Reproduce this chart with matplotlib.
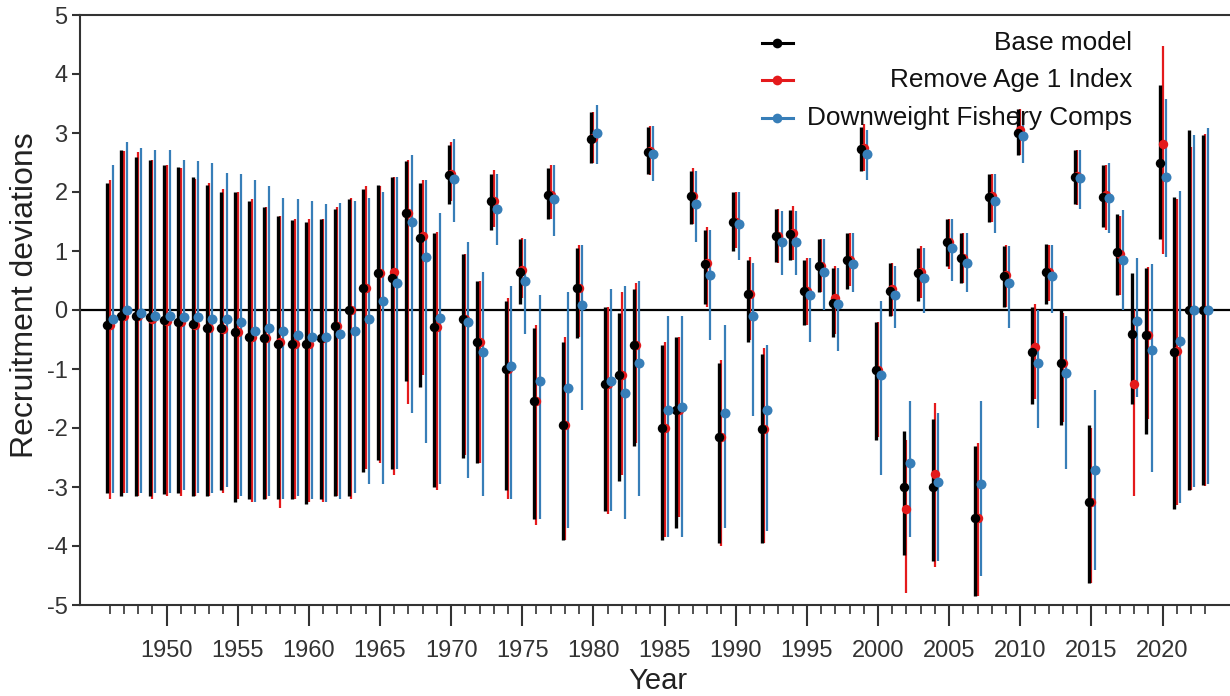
import matplotlib
matplotlib.use('Agg')
import matplotlib.pyplot as plt
import numpy as np
from matplotlib.lines import Line2D

years = list(range(1946, 2024))

base = [-0.25,-0.1,-0.1,-0.12,-0.17,-0.2,-0.23,-0.3,-0.3,-0.37,
        -0.45,-0.47,-0.57,-0.57,-0.57,-0.47,-0.27,0.0,0.38,0.63,
        0.55,1.65,1.22,-0.28,2.28,-0.15,-0.55,1.85,-1.0,0.65,
        -1.55,1.95,-1.95,0.38,2.9,-1.25,-1.1,-0.6,2.68,-2.0,
        -1.7,1.93,0.78,-2.15,1.5,0.27,-2.02,1.25,1.28,0.32,
        0.75,0.12,0.85,2.73,-1.02,0.33,-3.0,0.62,-3.0,1.15,
        0.88,-3.52,1.92,0.57,3.0,-0.72,0.65,-0.9,2.25,-3.25,
        1.92,0.98,-0.4,-0.42,2.5,-0.72,0.0,0.0]
base_hi = [2.15,2.72,2.6,2.55,2.45,2.42,2.25,2.12,2.0,2.0,
           1.85,1.75,1.6,1.52,1.5,1.55,1.72,1.88,2.05,2.12,
           2.25,2.52,2.15,1.3,2.8,0.95,0.5,2.3,0.15,1.2,
           -0.3,2.4,-0.55,1.05,3.35,0.05,-0.05,0.35,3.1,-0.6,
           -0.45,2.35,1.35,-0.9,2.0,0.85,-0.75,1.72,1.7,0.85,
           1.2,0.72,1.3,3.1,-0.2,0.8,-2.05,1.05,-1.85,1.55,
           1.3,-2.3,2.3,1.08,3.4,0.05,1.12,0.0,2.72,-1.95,
           2.45,1.63,0.63,0.72,3.82,1.92,3.05,2.97]
base_lo = [-3.1,-3.15,-3.15,-3.15,-3.12,-3.1,-3.15,-3.15,-3.05,-3.25,
           -3.2,-3.2,-3.2,-3.2,-3.28,-3.2,-3.15,-3.15,-2.75,-2.55,
           -2.7,-1.2,-1.3,-3.0,1.8,-2.5,-2.6,1.35,-3.05,0.1,
           -3.55,1.55,-3.9,-0.48,2.5,-3.4,-2.9,-2.3,2.3,-3.9,
           -3.7,1.45,0.1,-3.95,1.0,-0.55,-3.95,0.82,0.85,-0.25,
           0.3,-0.45,0.35,2.35,-2.2,-0.1,-4.15,0.15,-4.25,0.75,
           0.45,-4.85,1.5,0.05,2.62,-1.6,0.1,-1.95,1.8,-4.62,
           1.4,0.25,-1.6,-2.1,1.2,-3.38,-3.05,-2.97]

age1 = [-0.25,-0.1,-0.1,-0.15,-0.18,-0.2,-0.25,-0.3,-0.33,-0.37,
        -0.45,-0.47,-0.55,-0.57,-0.57,-0.47,-0.27,0.0,0.38,0.63,
        0.65,1.65,1.25,-0.28,2.3,-0.15,-0.55,1.85,-1.0,0.67,
        -1.55,1.95,-1.95,0.38,2.92,-1.25,-1.1,-0.6,2.7,-2.0,
        -1.7,1.93,0.8,-2.15,1.5,0.27,-2.02,1.25,1.3,0.32,
        0.75,0.2,0.85,2.75,-1.02,0.35,-3.38,0.65,-2.78,1.15,
        0.88,-3.52,1.93,0.6,3.05,-0.62,0.65,-0.9,2.27,-3.25,
        1.95,0.95,-1.25,-0.42,2.82,-0.7,0.0,0.0]
age1_hi = [2.2,2.7,2.68,2.55,2.45,2.4,2.22,2.15,2.05,2.0,
           1.88,1.75,1.6,1.55,1.55,1.55,1.75,1.9,2.1,2.1,
           2.25,2.55,2.2,1.33,2.85,0.95,0.5,2.38,0.2,1.22,
           -0.25,2.45,-0.45,1.1,3.35,0.05,0.3,0.45,3.12,-0.55,
           -0.45,2.4,1.4,-0.85,2.0,0.9,-0.65,1.72,1.77,0.88,
           1.2,0.75,1.3,3.15,-0.2,0.8,-2.2,1.08,-1.58,1.55,
           1.3,-2.25,2.3,1.1,3.4,0.1,1.1,-0.05,2.72,-2.0,
           2.45,1.6,0.0,0.73,4.47,1.88,2.77,2.98]
age1_lo = [-3.2,-3.1,-3.15,-3.2,-3.15,-3.15,-3.15,-3.15,-3.1,-3.2,
           -3.25,-3.2,-3.35,-3.2,-3.25,-3.25,-3.15,-3.2,-2.7,-2.6,
           -2.8,-1.6,-1.1,-3.05,1.85,-2.45,-2.6,1.4,-3.2,0.2,
           -3.65,1.55,-3.9,-0.45,2.5,-3.45,-2.8,-2.25,2.28,-3.85,
           -3.5,1.45,0.05,-4.0,1.05,-0.5,-3.95,0.8,0.85,-0.25,
           0.3,-0.4,0.4,2.35,-2.15,-0.1,-4.8,0.2,-4.35,0.7,
           0.45,-4.85,1.5,0.05,2.62,-1.5,0.15,-1.9,1.78,-4.62,
           1.35,0.25,-3.15,-1.85,0.95,-3.3,-3.05,-2.98]

dw = [-0.15,0.0,-0.05,-0.1,-0.1,-0.12,-0.12,-0.15,-0.15,-0.2,
      -0.35,-0.3,-0.35,-0.43,-0.45,-0.45,-0.4,-0.35,-0.15,0.15,
      0.45,1.5,0.9,-0.13,2.22,-0.2,-0.72,1.72,-0.95,0.5,
      -1.2,1.88,-1.32,0.08,3.0,-1.2,-1.4,-0.9,2.65,-1.7,
      -1.65,1.8,0.6,-1.75,1.45,-0.1,-1.7,1.15,1.15,0.25,
      0.65,0.1,0.78,2.65,-1.1,0.25,-2.6,0.55,-2.92,1.05,
      0.8,-2.95,1.85,0.45,2.95,-0.9,0.58,-1.07,2.23,-2.72,
      1.9,0.85,-0.18,-0.67,2.25,-0.52,0.0,0.0]
dw_hi = [2.45,2.85,2.75,2.72,2.72,2.55,2.52,2.5,2.32,2.3,
         2.2,2.1,1.9,1.88,1.85,1.8,1.82,1.85,1.9,2.0,
         2.25,2.62,2.2,1.65,2.9,1.15,0.65,2.3,0.4,1.2,
         0.25,2.45,0.3,1.1,3.48,0.35,0.4,0.5,3.12,-0.1,
         -0.1,2.35,1.35,-0.25,2.0,0.8,-0.6,1.68,1.68,0.88,
         1.2,0.72,1.3,3.05,0.15,0.75,-1.55,1.05,-1.75,1.55,
         1.3,-1.55,2.3,1.08,3.35,0.0,1.1,-0.1,2.72,-1.35,
         2.5,1.7,0.88,0.78,3.57,2.02,2.97,3.08]
dw_lo = [-3.1,-3.1,-3.1,-3.1,-3.1,-3.05,-3.1,-3.1,-3.0,-3.15,
         -3.25,-3.15,-3.2,-3.15,-3.2,-3.25,-3.2,-3.1,-2.95,-2.95,
         -2.7,-1.75,-2.25,-2.95,1.5,-2.85,-3.15,1.1,-3.2,-0.4,
         -3.55,1.25,-3.7,-1.7,2.48,-3.4,-3.55,-3.15,2.18,-3.85,
         -3.85,1.15,-0.5,-3.7,0.85,-1.8,-3.75,0.6,0.6,-0.55,
         0.0,-0.7,0.3,2.2,-2.8,-0.3,-3.85,-0.05,-4.25,0.5,
         0.3,-4.5,1.3,-0.3,2.5,-2.0,-0.05,-2.7,1.72,-4.4,
         1.3,0.0,-1.48,-2.75,0.9,-3.27,-3.0,-2.95]

labels = ["Base model", "Remove Age 1 Index", "Downweight Fishery Comps"]
colors = ["#000000", "#E41A1C", "#377EB8"]

plt.rcParams['font.family'] = ['Liberation Sans', 'DejaVu Sans']
plt.rcParams['axes.unicode_minus'] = False

W, H = 1230, 696
fig = plt.figure(figsize=(W / 100, H / 100), dpi=100)
ax = fig.add_axes([80 / W, 91 / H, 1150 / W, 590 / H])

x = np.array(years, dtype=float)
series = [
    (base, base_lo, base_hi, -0.17, 2.4, 6.8),
    (age1, age1_lo, age1_hi, 0.0, 1.6, 6.8),
    (dw, dw_lo, dw_hi, 0.22, 1.6, 7.2),
]

ax.axhline(0, color='black', lw=1.6, zorder=1)

z = [3, 2, 4]
for (vals, lo, hi, off, lw, ms), col, zz in zip(series, colors, z):
    ax.vlines(x + off, np.array(lo), np.array(hi), color=col, lw=lw, zorder=zz)
for (vals, lo, hi, off, lw, ms), col, zz in zip(series, colors, z):
    ax.plot(x + off, vals, 'o', color=col, ms=ms, mew=0, zorder=zz + 3)

ax.set_ylim(-5, 5)
px_per_year = 14.23
ax.set_xlim(1950 - (166.5 - 80) / px_per_year, 1950 + (1230 - 166.5) / px_per_year)

ax.set_yticks(range(-5, 6))
ax.set_xticks(range(1950, 2021, 5))
ax.set_xticks(years, minor=True)

gray = '#333333'
for s in ['left', 'top', 'bottom']:
    ax.spines[s].set_color(gray)
    ax.spines[s].set_linewidth(1.5)
ax.spines['right'].set_visible(False)

ax.tick_params(axis='x', which='major', length=15, width=1.5, color=gray,
               labelsize=17, labelcolor=gray, pad=10)
ax.tick_params(axis='x', which='minor', length=6.5, width=1.2, color=gray)
ax.tick_params(axis='y', which='major', length=6, width=1.5, color=gray,
               labelsize=17, labelcolor=gray, pad=3)

ax.set_xlabel("Year", fontsize=21, color='#222222')
ax.xaxis.set_label_coords((658 - 80) / 1150, -(681 - 605) / 590)
ax.set_ylabel("Recruitment deviations", fontsize=23, color='#222222')
ax.yaxis.set_label_coords(-(55) / 1150, (605 - 295) / 590)
ax.xaxis.label.set_va('center')
ax.yaxis.label.set_va('center')

# legend drawn in axes coordinates, text right aligned
rows_px = [43.3, 80.0, 117.7]
for lab, col, yr in zip(labels, colors, rows_px):
    yy = (605 - yr) / 590
    x0, x1 = (762 - 80) / 1150, (793 - 80) / 1150
    ax.add_line(Line2D([x0, (x0 + x1) / 2, x1], [yy, yy, yy], transform=ax.transAxes,
                       color=col, lw=2.2, marker='o', markevery=[1], ms=7, mew=0,
                       clip_on=False, zorder=10))
    ax.text((1132 - 80) / 1150, yy, lab, transform=ax.transAxes, ha='right',
            va='center', fontsize=18.8, color='#111111', zorder=10)

fig.savefig('out.png', dpi=100)
